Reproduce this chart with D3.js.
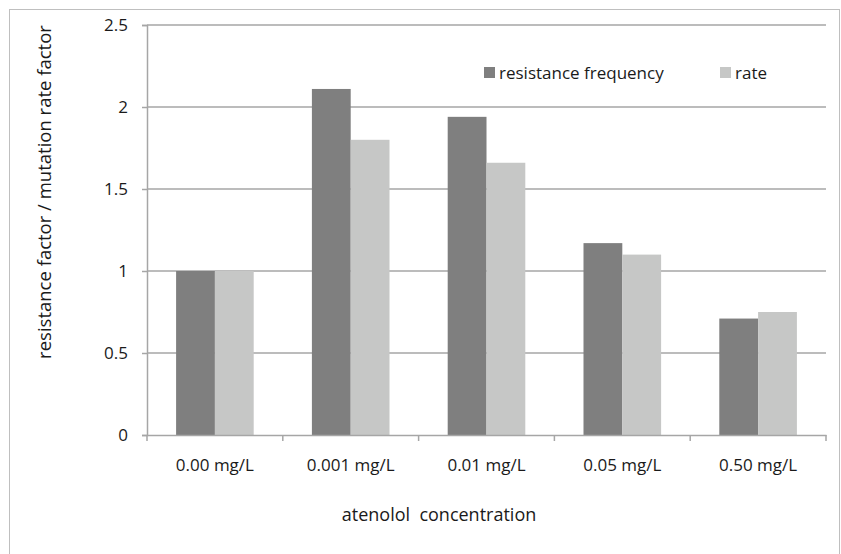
<!DOCTYPE html>
<html>
<head>
<meta charset="utf-8">
<script src="https://cdn.jsdelivr.net/npm/d3@7"></script>
<style>
  body { margin: 0; background: #fff; }
  text { font-family: "Open Sans", sans-serif; fill: #1a1a1a; }
</style>
</head>
<body>
<script>
// Chart data
var categories = ["0.00 mg/L", "0.001 mg/L", "0.01 mg/L", "0.05 mg/L", "0.50 mg/L"];
var seriesNames = ["resistance frequency", "rate"];
var resistanceFrequency = [1.00, 2.11, 1.94, 1.17, 0.71];
var rate = [1.00, 1.80, 1.66, 1.10, 0.75];
var yTicks = [0, 0.5, 1, 1.5, 2, 2.5];

var colors = ["#7f7f7f", "#c6c7c6"];

var width = 841,
    height = 554;

var svg = d3.select("body")
    .append("svg")
    .attr("width", width)
    .attr("height", height);

// Outer chart frame
svg.append("rect")
    .attr("x", 9.5)
    .attr("y", 9.5)
    .attr("width", 830)
    .attr("height", 560)
    .attr("fill", "#fff")
    .attr("stroke", "#bfbfbf")
    .attr("stroke-width", 1);

var plot = { left: 147, right: 826, top: 25, bottom: 435 };

var x = d3.scaleBand()
    .domain(categories)
    .range([plot.left, plot.right])
    .paddingInner(0)
    .paddingOuter(0);

// Two bars per category, gap width 150%
var barW = x.bandwidth() / 3.5;
var xSub = d3.scaleBand()
    .domain(seriesNames)
    .range([0.75 * barW, 2.75 * barW]);

var y = d3.scaleLinear()
    .domain([0, 2.5])
    .range([plot.bottom, plot.top]);

// Gridlines
svg.append("g")
    .selectAll("line")
    .data(yTicks.filter(function(d) { return d > 0; }))
    .enter()
    .append("line")
    .attr("x1", plot.left)
    .attr("x2", plot.right)
    .attr("y1", function(d) { return y(d); })
    .attr("y2", function(d) { return y(d); })
    .attr("stroke", "#a6a6a6")
    .attr("stroke-width", 1.5);

// Bars
var rows = categories.map(function(c, i) {
    return { cat: c, vals: [resistanceFrequency[i], rate[i]] };
});

var groups = svg.append("g")
    .selectAll("g")
    .data(rows)
    .enter()
    .append("g")
    .attr("transform", function(d) { return "translate(" + x(d.cat) + ",0)"; });

groups.selectAll("rect")
    .data(function(d) {
        return d.vals.map(function(v, j) { return { name: seriesNames[j], value: v, j: j }; });
    })
    .enter()
    .append("rect")
    .attr("x", function(d) { return xSub(d.name); })
    .attr("width", xSub.bandwidth())
    .attr("y", function(d) { return y(d.value); })
    .attr("height", function(d) { return y(0) - y(d.value); })
    .attr("fill", function(d) { return colors[d.j]; });

// Y axis
var yAxis = svg.append("g")
    .attr("transform", "translate(" + plot.left + ",0)")
    .call(d3.axisLeft(y).tickValues(yTicks).tickSize(5).tickPadding(14)
        .tickFormat(function(d) { return d3.format("")(d); }));
yAxis.selectAll("line").attr("stroke", "#a6a6a6").attr("stroke-width", 1.5);
yAxis.select(".domain").attr("stroke", "#a6a6a6").attr("stroke-width", 1.5);
yAxis.selectAll("text").style("font-size", "17px").attr("fill", "#1a1a1a");

// X axis
var xAxis = svg.append("g")
    .attr("transform", "translate(0," + plot.bottom + ")")
    .call(d3.axisBottom(x).tickSize(0).tickPadding(24));
xAxis.select(".domain").attr("stroke", "#a6a6a6").attr("stroke-width", 1.5);
xAxis.selectAll("text").style("font-size", "17px").attr("fill", "#1a1a1a");

// Category boundary ticks
xAxis.append("g")
    .selectAll("line")
    .data(d3.range(categories.length + 1))
    .enter()
    .append("line")
    .attr("x1", function(i) { return plot.left + i * x.bandwidth(); })
    .attr("x2", function(i) { return plot.left + i * x.bandwidth(); })
    .attr("y1", 0)
    .attr("y2", 6)
    .attr("stroke", "#a6a6a6")
    .attr("stroke-width", 1.5);

// Axis titles
svg.append("text")
    .attr("x", 439)
    .attr("y", 521)
    .attr("text-anchor", "middle")
    .style("font-size", "18px")
    .text("atenolol\u00a0 concentration");

svg.append("text")
    .attr("transform", "translate(51,192) rotate(-90)")
    .attr("text-anchor", "middle")
    .style("font-size", "18.5px")
    .text("resistance factor / mutation rate factor");

// Legend
var legendX = [484, 720];
var legend = svg.append("g")
    .selectAll("g")
    .data(seriesNames)
    .enter()
    .append("g")
    .attr("transform", function(d, i) { return "translate(" + legendX[i] + ",67)"; });

legend.append("rect")
    .attr("width", 11)
    .attr("height", 11)
    .attr("fill", function(d, i) { return colors[i]; });

legend.append("text")
    .attr("x", 15)
    .attr("y", 12)
    .style("font-size", "17px")
    .text(function(d) { return d; });
</script>
</body>
</html>
